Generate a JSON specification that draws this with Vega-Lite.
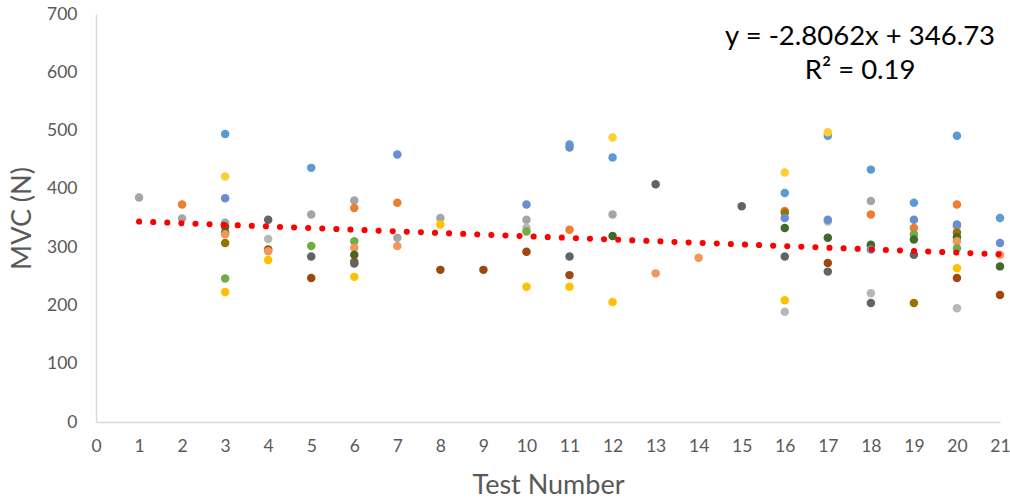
{
  "$schema": "https://vega.github.io/schema/vega-lite/v6.json",
  "width": 904,
  "height": 408,
  "autosize": "none",
  "padding": {"left": 96, "top": 14, "right": 10, "bottom": 79},
  "background": "white",
  "config": {"view": {"stroke": null}, "font": "Lato"},
  "datasets": {
    "points": [
      {"test": 1, "mvc": 385, "series": "C"},
      {"test": 2, "mvc": 373, "series": "B"},
      {"test": 2, "mvc": 349, "series": "C"},
      {"test": 3, "mvc": 494, "series": "A"},
      {"test": 3, "mvc": 421, "series": "M"},
      {"test": 3, "mvc": 384, "series": "E"},
      {"test": 3, "mvc": 342, "series": "C"},
      {"test": 3, "mvc": 335, "series": "H"},
      {"test": 3, "mvc": 325, "series": "J"},
      {"test": 3, "mvc": 322, "series": "K"},
      {"test": 3, "mvc": 307, "series": "I"},
      {"test": 3, "mvc": 246, "series": "F"},
      {"test": 3, "mvc": 223, "series": "D"},
      {"test": 4, "mvc": 347, "series": "G"},
      {"test": 4, "mvc": 314, "series": "L"},
      {"test": 4, "mvc": 296, "series": "H"},
      {"test": 4, "mvc": 293, "series": "K"},
      {"test": 4, "mvc": 278, "series": "D"},
      {"test": 5, "mvc": 436, "series": "A"},
      {"test": 5, "mvc": 356, "series": "C"},
      {"test": 5, "mvc": 302, "series": "F"},
      {"test": 5, "mvc": 284, "series": "G"},
      {"test": 5, "mvc": 247, "series": "H"},
      {"test": 6, "mvc": 380, "series": "C"},
      {"test": 6, "mvc": 367, "series": "B"},
      {"test": 6, "mvc": 310, "series": "F"},
      {"test": 6, "mvc": 299, "series": "K"},
      {"test": 6, "mvc": 287, "series": "J"},
      {"test": 6, "mvc": 275, "series": "H"},
      {"test": 6, "mvc": 272, "series": "G"},
      {"test": 6, "mvc": 249, "series": "D"},
      {"test": 7, "mvc": 459, "series": "E"},
      {"test": 7, "mvc": 376, "series": "B"},
      {"test": 7, "mvc": 316, "series": "C"},
      {"test": 7, "mvc": 302, "series": "K"},
      {"test": 8, "mvc": 350, "series": "C"},
      {"test": 8, "mvc": 339, "series": "D"},
      {"test": 8, "mvc": 261, "series": "H"},
      {"test": 9, "mvc": 261, "series": "H"},
      {"test": 10, "mvc": 373, "series": "E"},
      {"test": 10, "mvc": 347, "series": "C"},
      {"test": 10, "mvc": 333, "series": "L"},
      {"test": 10, "mvc": 327, "series": "F"},
      {"test": 10, "mvc": 292, "series": "H"},
      {"test": 10, "mvc": 232, "series": "D"},
      {"test": 11, "mvc": 476, "series": "A"},
      {"test": 11, "mvc": 471, "series": "E"},
      {"test": 11, "mvc": 330, "series": "B"},
      {"test": 11, "mvc": 284, "series": "G"},
      {"test": 11, "mvc": 252, "series": "H"},
      {"test": 11, "mvc": 232, "series": "D"},
      {"test": 12, "mvc": 488, "series": "M"},
      {"test": 12, "mvc": 454, "series": "A"},
      {"test": 12, "mvc": 356, "series": "C"},
      {"test": 12, "mvc": 319, "series": "J"},
      {"test": 12, "mvc": 206, "series": "D"},
      {"test": 13, "mvc": 408, "series": "G"},
      {"test": 13, "mvc": 255, "series": "K"},
      {"test": 14, "mvc": 282, "series": "K"},
      {"test": 15, "mvc": 370, "series": "G"},
      {"test": 16, "mvc": 428, "series": "M"},
      {"test": 16, "mvc": 393, "series": "A"},
      {"test": 16, "mvc": 362, "series": "B"},
      {"test": 16, "mvc": 359, "series": "I"},
      {"test": 16, "mvc": 350, "series": "E"},
      {"test": 16, "mvc": 333, "series": "J"},
      {"test": 16, "mvc": 284, "series": "G"},
      {"test": 16, "mvc": 209, "series": "D"},
      {"test": 16, "mvc": 189, "series": "L"},
      {"test": 17, "mvc": 491, "series": "A"},
      {"test": 17, "mvc": 497, "series": "M"},
      {"test": 17, "mvc": 344, "series": "L"},
      {"test": 17, "mvc": 347, "series": "E"},
      {"test": 17, "mvc": 316, "series": "J"},
      {"test": 17, "mvc": 273, "series": "H"},
      {"test": 17, "mvc": 258, "series": "G"},
      {"test": 18, "mvc": 433, "series": "A"},
      {"test": 18, "mvc": 379, "series": "C"},
      {"test": 18, "mvc": 356, "series": "B"},
      {"test": 18, "mvc": 302, "series": "F"},
      {"test": 18, "mvc": 304, "series": "J"},
      {"test": 18, "mvc": 296, "series": "E"},
      {"test": 18, "mvc": 221, "series": "L"},
      {"test": 18, "mvc": 204, "series": "G"},
      {"test": 19, "mvc": 376, "series": "A"},
      {"test": 19, "mvc": 347, "series": "E"},
      {"test": 19, "mvc": 333, "series": "B"},
      {"test": 19, "mvc": 322, "series": "F"},
      {"test": 19, "mvc": 313, "series": "J"},
      {"test": 19, "mvc": 287, "series": "G"},
      {"test": 19, "mvc": 204, "series": "I"},
      {"test": 20, "mvc": 491, "series": "A"},
      {"test": 20, "mvc": 373, "series": "B"},
      {"test": 20, "mvc": 336, "series": "C"},
      {"test": 20, "mvc": 339, "series": "E"},
      {"test": 20, "mvc": 325, "series": "I"},
      {"test": 20, "mvc": 317, "series": "J"},
      {"test": 20, "mvc": 310, "series": "K"},
      {"test": 20, "mvc": 298, "series": "F"},
      {"test": 20, "mvc": 264, "series": "D"},
      {"test": 20, "mvc": 247, "series": "H"},
      {"test": 20, "mvc": 195, "series": "L"},
      {"test": 21, "mvc": 350, "series": "A"},
      {"test": 21, "mvc": 307, "series": "E"},
      {"test": 21, "mvc": 287, "series": "K"},
      {"test": 21, "mvc": 267, "series": "J"},
      {"test": 21, "mvc": 218, "series": "H"}
    ],
    "trend": [
      {"test": 1, "mvc": 343.92},
      {"test": 21, "mvc": 287.80}
    ],
    "labels": [
      {"test": 17.75, "mvc": 660, "label": "y = -2.8062x + 346.73"},
      {"test": 17.75, "mvc": 602, "label": "R² = 0.19"}
    ]
  },
  "encoding": {
    "x": {
      "field": "test",
      "type": "quantitative",
      "scale": {"domain": [0, 21], "nice": false},
      "axis": {
        "title": "Test Number",
        "values": [0,1,2,3,4,5,6,7,8,9,10,11,12,13,14,15,16,17,18,19,20,21],
        "grid": false,
        "ticks": false,
        "domainColor": "#D9D9D9",
        "domainWidth": 1.5,
        "labelColor": "#595959",
        "labelFontSize": 17.5,
        "labelPadding": 15,
        "labelFlush": false,
        "titleColor": "#595959",
        "titleFontSize": 27,
        "titleFontWeight": "normal",
        "titlePadding": 18
      }
    },
    "y": {
      "field": "mvc",
      "type": "quantitative",
      "scale": {"domain": [0, 700], "nice": false},
      "axis": {
        "title": "MVC (N)",
        "values": [0,100,200,300,400,500,600,700],
        "grid": false,
        "ticks": false,
        "domainColor": "#D9D9D9",
        "domainWidth": 1.5,
        "labelColor": "#595959",
        "labelFontSize": 17.5,
        "labelPadding": 19,
        "labelFlush": false,
        "titleColor": "#595959",
        "titleFontSize": 27,
        "titleFontWeight": "normal",
        "titlePadding": 10
      }
    }
  },
  "layer": [
    {
      "data": {"name": "points"},
      "mark": {"type": "circle", "size": 72, "opacity": 1},
      "encoding": {
        "color": {
          "field": "series",
          "type": "nominal",
          "legend": null,
          "scale": {
            "domain": ["A","B","C","D","E","F","G","H","I","J","K","L","M"],
            "range": ["#5B9BD5","#ED7D31","#A5A5A5","#FFC000","#698ED0","#70AD47","#636363","#9E480E","#997300","#43682B","#F1975A","#B7B7B7","#FFCD33"]
          }
        }
      }
    },
    {
      "data": {"name": "trend"},
      "mark": {"type": "line", "color": "#FF0000", "strokeWidth": 6, "strokeDash": [0.1, 14], "strokeCap": "round"},
      "encoding": {}
    },
    {
      "data": {"name": "labels"},
      "mark": {"type": "text", "fontSize": 27.5, "color": "#000000", "align": "center", "baseline": "middle"},
      "encoding": {"text": {"field": "label"}}
    }
  ]
}
